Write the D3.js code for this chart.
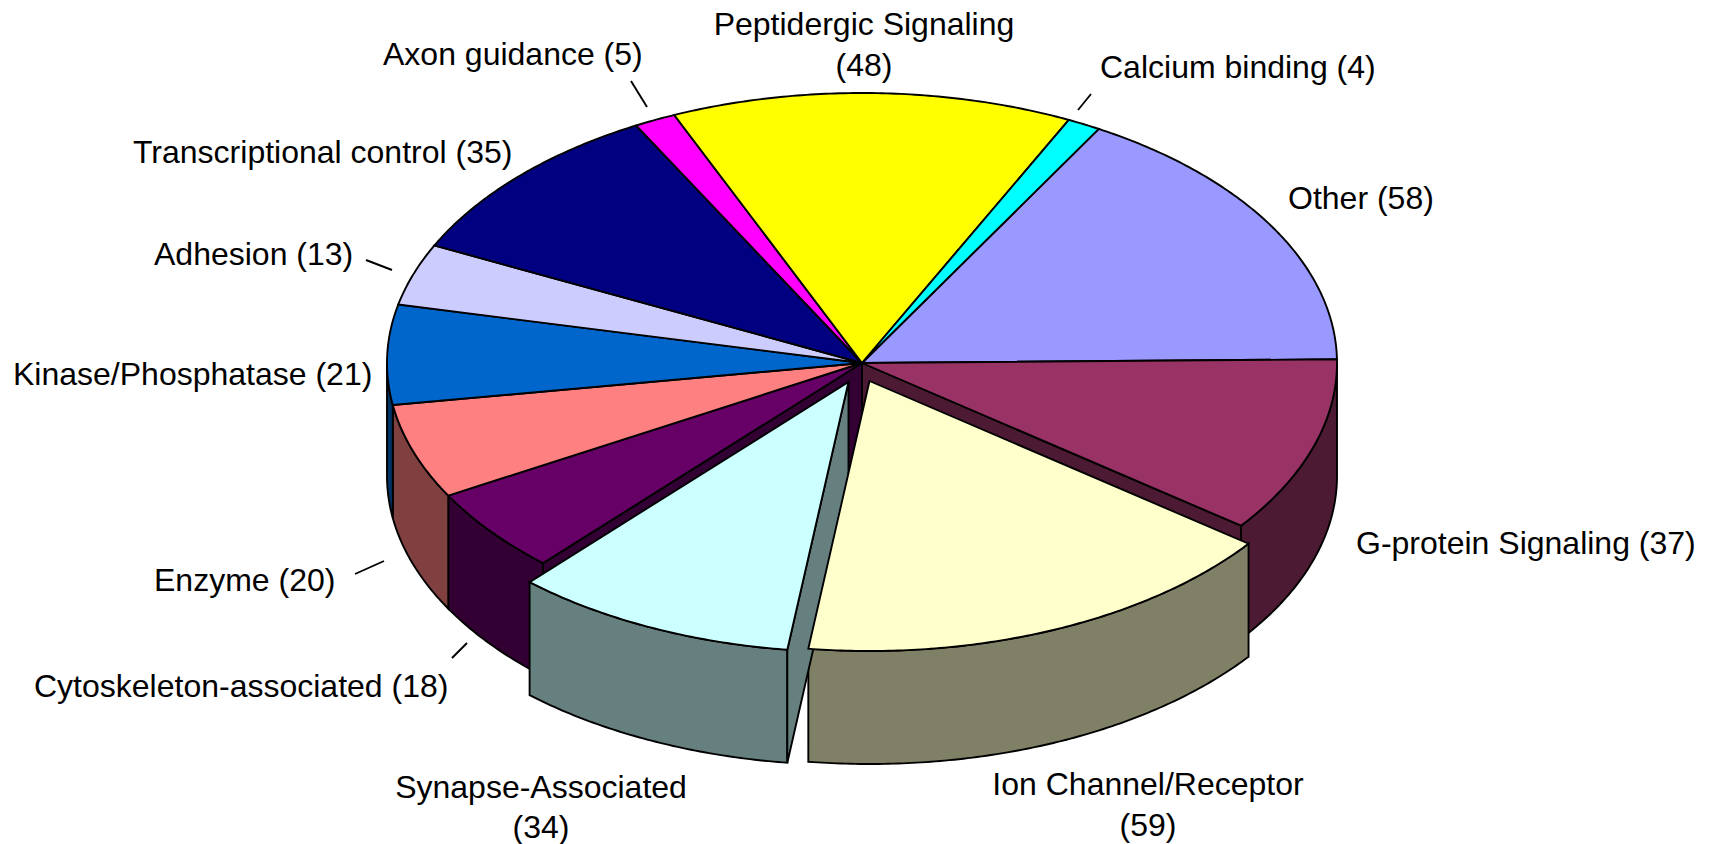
<!DOCTYPE html>
<html>
<head>
<meta charset="utf-8">
<script src="https://cdn.jsdelivr.net/npm/d3@7"></script>
<style>
body { margin: 0; background: #fff; }
text { font-family: "Liberation Sans", Arial, sans-serif; font-size: 32px; fill: #000; }
</style>
</head>
<body>
<script>
// chart values
var categories = ["Other", "G-protein Signaling", "Ion Channel/Receptor", "Synapse-Associated",
    "Cytoskeleton-associated", "Enzyme", "Kinase/Phosphatase", "Adhesion",
    "Transcriptional control", "Axon guidance", "Peptidergic Signaling", "Calcium binding"];
var counts = [58, 37, 59, 34, 18, 20, 21, 13, 35, 5, 48, 4];
var colours = ["#9999FF", "#993366", "#FFFFCC", "#CCFFFF", "#660066", "#FF8080",
    "#0066CC", "#CCCCFF", "#000080", "#FF00FF", "#FFFF00", "#00FFFF"];
var pulledOut = ["Ion Channel/Receptor", "Synapse-Associated"];

// dimensions
var width = 1711;
var height = 844;
var depth = 113;
var startDeg = 29.9;
// how far the pulled out slices sit from the centre, in pixels
var pullOffset = [[7.5, 18], [-13.5, 19]];

var svg = d3.select("body")
    .append("svg")
    .attr("width", width)
    .attr("height", height)
    .style("display", "block");

// the flat pie is squashed into an ellipse, so x and y get their own scale
var xScale = d3.scaleLinear().domain([-1, 1]).range([387, 1337]);
var yScale = d3.scaleLinear().domain([-1, 1]).range([93, 633]);

var pie = d3.pie()
    .sort(null)
    .startAngle(startDeg * Math.PI / 180)
    .endAngle(startDeg * Math.PI / 180 + 2 * Math.PI);

var slices = pie(counts).map(function(d, i) {
    var k = pulledOut.indexOf(categories[i]);
    return {
        a0: d.startAngle,
        a1: d.endAngle,
        ox: k >= 0 ? pullOffset[k][0] : 0,
        oy: k >= 0 ? pullOffset[k][1] : 0,
        colour: colours[i],
        wall: halfColour(colours[i]),
        name: categories[i]
    };
});

function halfColour(c) {
    var rgb = d3.rgb(c);
    return d3.rgb(rgb.r / 2, rgb.g / 2, rgb.b / 2).formatHex();
}

var line = d3.line()
    .x(function(d) { return d[0]; })
    .y(function(d) { return d[1]; });

// point on the pie, r is 0 at centre and 1 on the rim, z pushes it down the side
function pt(s, a, r, z) {
    return [xScale(Math.sin(a) * r) + s.ox, yScale(-Math.cos(a) * r) + s.oy + (z || 0)];
}

function arcPoints(s, a0, a1, z) {
    var n = Math.max(2, Math.ceil((a1 - a0) / 0.01));
    return d3.range(n + 1).map(function(i) {
        return pt(s, a0 + (a1 - a0) * i / n, 1, z);
    });
}

function topPath(s) {
    return line([pt(s, 0, 0)].concat(arcPoints(s, s.a0, s.a1))) + "Z";
}

// outer side, only the front half of the circle can be seen
function rimPath(s) {
    var spans = [[Math.PI / 2, 3 * Math.PI / 2], [Math.PI / 2 + 2 * Math.PI, 3 * Math.PI / 2 + 2 * Math.PI]];
    var out = "";
    spans.forEach(function(v) {
        var a0 = Math.max(s.a0, v[0]);
        var a1 = Math.min(s.a1, v[1]);
        if (a1 > a0) {
            out += line(arcPoints(s, a0, a1).concat(arcPoints(s, a0, a1, depth).reverse())) + "Z";
        }
    });
    return out;
}

// cut side from the centre to the rim
function cutPath(s, a) {
    return line([pt(s, 0, 0), pt(s, a, 1), pt(s, a, 1, depth), pt(s, 0, 0, depth)]) + "Z";
}

function draw(d, fill) {
    svg.append("path")
        .attr("d", d)
        .attr("fill", fill)
        .attr("stroke", "#000")
        .attr("stroke-width", 1.9);
}

var stayed = slices.filter(function(s) { return pulledOut.indexOf(s.name) < 0; });
var moved = slices.filter(function(s) { return pulledOut.indexOf(s.name) >= 0; });

// back to front, the two slices that are pulled out go last
stayed.forEach(function(s) {
    var rim = rimPath(s);
    if (rim) draw(rim, s.wall);
});
draw(cutPath(slices[1], slices[1].a1), slices[1].wall);
draw(cutPath(slices[4], slices[4].a0), slices[4].wall);
stayed.forEach(function(s) {
    draw(topPath(s), s.colour);
});
moved.forEach(function(s) {
    draw(rimPath(s), s.wall);
});
draw(cutPath(moved[1], moved[1].a0), moved[1].wall);
moved.forEach(function(s) {
    draw(topPath(s), s.colour);
});

// labels, x is the left edge unless middle is set
var labelLines = [
    { t: categories[10], x: 864, y: 35, middle: true },
    { t: "(" + counts[10] + ")", x: 864, y: 76, middle: true },
    { t: categories[9] + " (" + counts[9] + ")", x: 383, y: 65 },
    { t: categories[11] + " (" + counts[11] + ")", x: 1100, y: 78 },
    { t: categories[8] + " (" + counts[8] + ")", x: 133, y: 163 },
    { t: categories[0] + " (" + counts[0] + ")", x: 1288, y: 209 },
    { t: categories[7] + " (" + counts[7] + ")", x: 154, y: 265 },
    { t: categories[6] + " (" + counts[6] + ")", x: 13, y: 385 },
    { t: categories[1] + " (" + counts[1] + ")", x: 1356, y: 554 },
    { t: categories[5] + " (" + counts[5] + ")", x: 154, y: 591 },
    { t: categories[4] + " (" + counts[4] + ")", x: 34, y: 697 },
    { t: categories[3], x: 541, y: 798, middle: true },
    { t: "(" + counts[3] + ")", x: 541, y: 838, middle: true },
    { t: categories[2], x: 1148, y: 795, middle: true },
    { t: "(" + counts[2] + ")", x: 1148, y: 836, middle: true }
];

svg.selectAll(".label")
    .data(labelLines)
    .enter().append("text")
    .attr("class", "label")
    .attr("x", function(d) { return d.x; })
    .attr("y", function(d) { return d.y; })
    .attr("text-anchor", function(d) { return d.middle ? "middle" : "start"; })
    .text(function(d) { return d.t; });

// small leader ticks
var leaders = [
    [631, 81, 647, 107],
    [1091, 94, 1078, 110],
    [366, 260, 392, 270],
    [384, 561, 355, 574],
    [467, 643, 452, 658]
];

svg.selectAll(".leader")
    .data(leaders)
    .enter().append("line")
    .attr("class", "leader")
    .attr("x1", function(d) { return d[0]; })
    .attr("y1", function(d) { return d[1]; })
    .attr("x2", function(d) { return d[2]; })
    .attr("y2", function(d) { return d[3]; })
    .attr("stroke", "#000")
    .attr("stroke-width", 1.9);
</script>
</body>
</html>
